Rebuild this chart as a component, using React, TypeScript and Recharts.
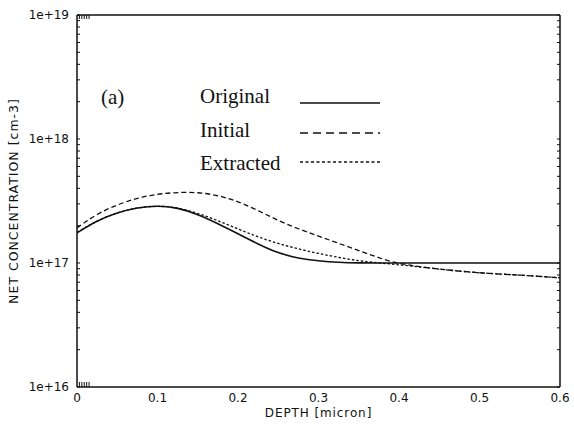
import { LineChart, Line, XAxis, YAxis, Legend } from 'recharts';

// depth in micron, concentrations in units of 1e17 cm-3
const depth = [0, 0.025, 0.05, 0.075, 0.1, 0.125, 0.15, 0.175, 0.2, 0.225, 0.25, 0.275, 0.3, 0.325, 0.35, 0.375, 0.4, 0.45, 0.5, 0.55, 0.6];
const original = [1.75, 2.2, 2.55, 2.8, 2.9, 2.8, 2.47, 2.08, 1.72, 1.42, 1.2, 1.09, 1.04, 1.01, 1.0, 1.0, 1.0, 1.0, 1.0, 1.0, 1.0];
const initial = [1.92, 2.5, 2.95, 3.35, 3.6, 3.72, 3.72, 3.52, 3.14, 2.65, 2.2, 1.88, 1.65, 1.44, 1.26, 1.1, 0.98, 0.89, 0.83, 0.8, 0.76];
const extracted = [1.77, 2.2, 2.55, 2.8, 2.9, 2.8, 2.52, 2.2, 1.88, 1.62, 1.43, 1.3, 1.19, 1.11, 1.04, 1.0, 0.97, 0.89, 0.83, 0.8, 0.76];

const xTicks = [0, 0.1, 0.2, 0.3, 0.4, 0.5, 0.6];
const innerXTicks = [0.1, 0.2, 0.3, 0.4, 0.5];
const yTicks = [1e16, 1e17, 1e18, 1e19];
const decades = [1e16, 1e17, 1e18];
const steps = [2, 3, 4, 5, 6, 7, 8, 9];
const minorTicks = decades.flatMap((d) => steps.map((s) => s * d));

const series = [
  { key: 'original', name: 'Original', dash: undefined, legendDash: undefined, width: 1.6 },
  { key: 'initial', name: 'Initial', dash: '5 3', legendDash: '8 5', width: 1.3 },
  { key: 'extracted', name: 'Extracted', dash: '2.5 2', legendDash: '3 2.5', width: 1.3 },
];

const data = depth.map((d, i) => ({
  depth: d,
  original: original[i] * 1e17,
  initial: initial[i] * 1e17,
  extracted: extracted[i] * 1e17,
}));

const ink = '#111';
const sans = 'DejaVu Sans, sans-serif';
const serif = 'Liberation Serif, Times New Roman, serif';
const noLabel = () => '';

function LegendBox() {
  const textY = [103, 137, 170];
  const lineY = [103, 133, 162];
  return (
    <svg width={574} height={425} style={{ display: 'block' }}>
      <text x={101} y={104} fontFamily={serif} fontSize={21} fill={ink}>(a)</text>
      {series.map((s, i) => (
        <g key={s.key}>
          <text x={200} y={textY[i]} fontFamily={serif} fontSize={21} fill={ink}>{s.name}</text>
          <line x1={300} x2={380} y1={lineY[i]} y2={lineY[i]} stroke={ink} strokeWidth={s.width} strokeDasharray={s.legendDash} />
        </g>
      ))}
    </svg>
  );
}

export default function App() {
  return (
    <div style={{ position: 'absolute', left: 0, top: 0, background: '#fff' }}>
      <LineChart width={574} height={425} data={data} margin={{ top: 15, right: 14, bottom: 0, left: 0 }}>
        <XAxis
          dataKey="depth"
          type="number"
          domain={[0, 0.6]}
          ticks={xTicks}
          interval={0}
          height={38}
          tickSize={0}
          tickMargin={6}
          tickLine={false}
          axisLine={{ stroke: ink, strokeWidth: 1.5 }}
          tick={{ fill: ink, fontSize: 12, fontFamily: sans }}
          label={{ value: 'DEPTH [micron]', position: 'insideBottom', offset: 8, fill: ink, fontSize: 12, fontFamily: sans, letterSpacing: 0.9 }}
        />
        <XAxis xAxisId="top" orientation="top" mirror type="number" domain={[0, 0.6]} ticks={innerXTicks} interval={0} tickFormatter={noLabel} tickSize={4} axisLine={{ stroke: ink, strokeWidth: 1.5 }} tickLine={{ stroke: ink }} />
        <XAxis xAxisId="bin" orientation="bottom" mirror type="number" domain={[0, 0.6]} ticks={innerXTicks} interval={0} tickFormatter={noLabel} tickSize={5} axisLine={false} tickLine={{ stroke: ink }} />
        <YAxis
          type="number"
          scale="log"
          domain={[1e16, 1e19]}
          allowDataOverflow
          ticks={yTicks}
          interval={0}
          width={77}
          tickSize={0}
          tickMargin={8}
          tickLine={false}
          axisLine={{ stroke: ink, strokeWidth: 1.5 }}
          tick={{ fill: ink, fontSize: 12, fontFamily: sans }}
          tickFormatter={(v: number) => `1e+${Math.round(Math.log10(v))}`}
          label={{ value: 'NET CONCENTRATION [cm-3]', angle: -90, position: 'insideLeft', offset: 14, fill: ink, fontSize: 12.5, fontFamily: sans, letterSpacing: 1, style: { textAnchor: 'middle' } }}
        />
        <YAxis yAxisId="minL" orientation="left" mirror type="number" scale="log" domain={[1e16, 1e19]} allowDataOverflow ticks={[...minorTicks, ...yTicks]} interval={0} tickFormatter={noLabel} tickSize={3} axisLine={false} tickLine={{ stroke: ink }} />
        <YAxis yAxisId="right" orientation="right" mirror type="number" scale="log" domain={[1e16, 1e19]} allowDataOverflow ticks={[...minorTicks, ...yTicks]} interval={0} tickFormatter={noLabel} tickSize={3} axisLine={{ stroke: ink, strokeWidth: 1.5 }} tickLine={{ stroke: ink }} />
        <Legend
          layout="vertical"
          align="center"
          verticalAlign="middle"
          wrapperStyle={{ left: 0, top: 0, width: 574, height: 425, pointerEvents: 'none' }}
          content={() => <LegendBox />}
        />
        {series.map((s) => (
          <Line
            key={s.key}
            type="basis"
            dataKey={s.key}
            name={s.name}
            stroke={ink}
            strokeWidth={s.width}
            strokeDasharray={s.dash}
            dot={false}
            activeDot={false}
            isAnimationActive={false}
          />
        ))}
      </LineChart>
    </div>
  );
}
